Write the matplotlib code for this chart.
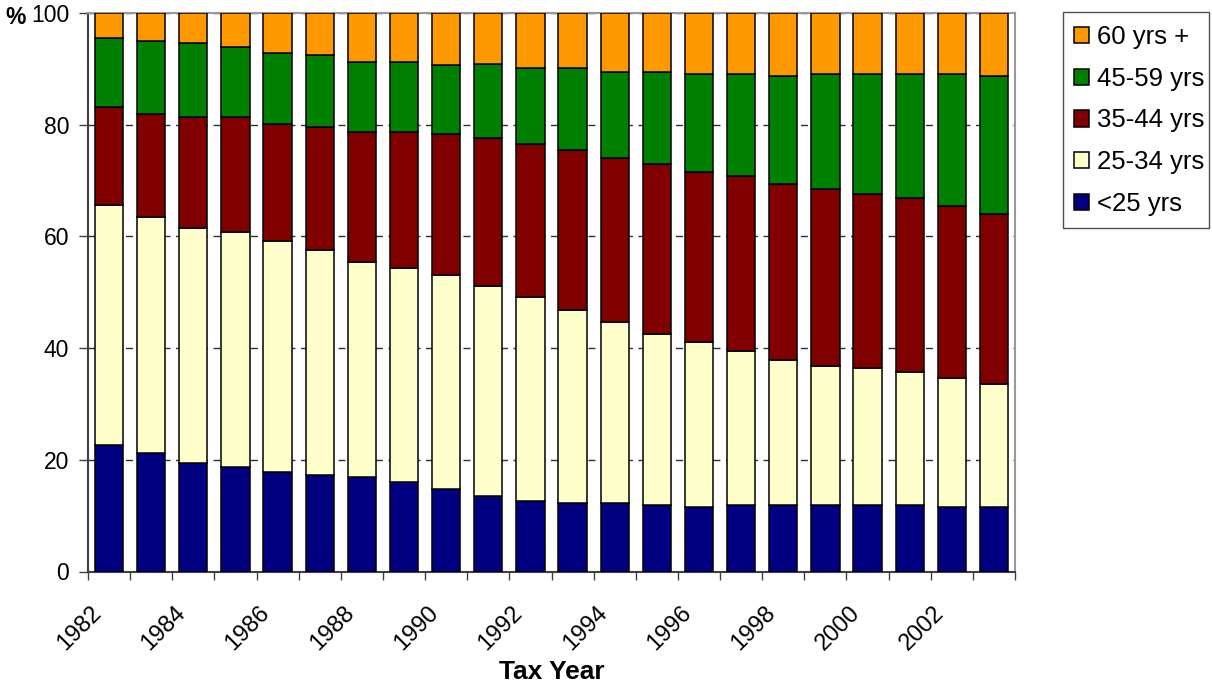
import numpy as np
import matplotlib
matplotlib.use("Agg")
import matplotlib.pyplot as plt
from matplotlib.patches import Rectangle
from matplotlib.transforms import ScaledTranslation

plt.rcParams['font.family'] = ['Liberation Sans', 'DejaVu Sans']

years = list(range(1982, 2004))
age_groups = ['<25 yrs', '25-34 yrs', '35-44 yrs', '45-59 yrs', '60 yrs +']
colors = ['#000080', '#FFFFCC', '#800000', '#008000', '#FF9900']

under25 = [22.6, 21.2, 19.4, 18.7, 17.9, 17.2, 16.9, 16.1, 14.7, 13.6, 12.6,
           12.2, 12.2, 11.9, 11.5, 11.9, 11.9, 11.9, 11.9, 11.9, 11.5, 11.5]
age25_34 = [43.0, 42.2, 42.1, 42.1, 41.2, 40.4, 38.6, 38.3, 38.3, 37.6, 36.5,
            34.6, 32.5, 30.6, 29.6, 27.6, 26.0, 24.9, 24.5, 23.8, 23.1, 22.1]
age35_44 = [17.5, 18.6, 19.8, 20.5, 21.1, 21.9, 23.2, 24.3, 25.4, 26.5, 27.5,
            28.7, 29.4, 30.5, 30.5, 31.4, 31.5, 31.6, 31.2, 31.2, 30.9, 30.5]
age45_59 = [12.5, 12.9, 13.3, 12.6, 12.6, 12.9, 12.6, 12.6, 12.2, 13.2, 13.6,
            14.7, 15.4, 16.5, 17.5, 18.2, 19.4, 20.7, 21.5, 22.2, 23.6, 24.7]
age60_plus = [4.4, 5.1, 5.4, 6.1, 7.2, 7.6, 8.7, 8.7, 9.4, 9.1, 9.8,
              9.8, 10.5, 10.5, 10.9, 10.9, 11.2, 10.9, 10.9, 10.9, 10.9, 11.2]

series = [under25, age25_34, age35_44, age45_59, age60_plus]

W, H = 1212, 683
fig = plt.figure(figsize=(W / 100, H / 100), dpi=100)
ax = fig.add_axes([88 / W, 1 - 571.5 / H, (1015 - 88) / W, (571.5 - 13) / H])

x = np.arange(len(years))
bottom = np.zeros(len(years))
handles = []
for vals, col, lab in zip(series, colors, age_groups):
    b = ax.bar(x, vals, width=0.67, bottom=bottom, color=col, edgecolor='black',
               linewidth=1.1, label=lab, zorder=3)
    handles.append(b)
    bottom += np.array(vals)

ax.set_xlim(-0.5, len(years) - 0.5)
ax.set_ylim(0, 100)

# y axis
ax.set_yticks([0, 20, 40, 60, 80, 100])
ax.tick_params(axis='y', direction='out', length=6.5, width=1, pad=7,
               labelsize=16.5, color='#404040')
ax.yaxis.grid(True, linestyle=(0, (5, 4)), color='#303030', linewidth=1, zorder=0)
ax.set_axisbelow(True)

# x axis: tick marks between bars, labels under every other bar
ax.set_xticks(np.arange(len(years) + 1) - 0.5)
ax.set_xticklabels([])
ax.tick_params(axis='x', which='major', direction='out', length=6, width=1,
               color='#404040')
ax.set_xticks(x[::2], minor=True)
ax.set_xticklabels([str(y) for y in years[::2]], minor=True, rotation=45,
                   ha='right', va='center', rotation_mode='anchor', fontsize=17)
ax.tick_params(axis='x', which='minor', length=0, pad=27.5)
shift = ScaledTranslation(-11 / 100, 0, fig.dpi_scale_trans)
for lbl in ax.get_xticklabels(minor=True):
    lbl.set_transform(lbl.get_transform() + shift)
ax.xaxis.grid(False)

fig.text(551.5 / W, 1 - 679 / H, 'Tax Year', fontsize=19, fontweight='bold',
         ha='center', va='baseline')

for side in ['left', 'bottom']:
    ax.spines[side].set_color('#404040')
    ax.spines[side].set_linewidth(1.5)
for side in ['top', 'right']:
    ax.spines[side].set_color('#999999')
    ax.spines[side].set_linewidth(1.5)

fig.text(5 / W, 1 - 18 / H, '%', fontsize=16.5, fontweight='bold', va='center')

# legend: entries without frame, box drawn separately
leg = fig.legend(handles[::-1], age_groups[::-1], loc='upper left',
                 bbox_to_anchor=(1074 / W, 1 - 25 / H), fontsize=18.5,
                 handlelength=0.6, handleheight=0.6, handletextpad=0.3,
                 labelspacing=0.69, borderpad=0, borderaxespad=0,
                 frameon=False)
fig.patches.append(Rectangle((1063 / W, 1 - 228 / H), (1209 - 1063) / W,
                             (228 - 12) / H, transform=fig.transFigure,
                             fill=False, edgecolor='#505050', linewidth=1))

fig.savefig('out.png', dpi=100)
